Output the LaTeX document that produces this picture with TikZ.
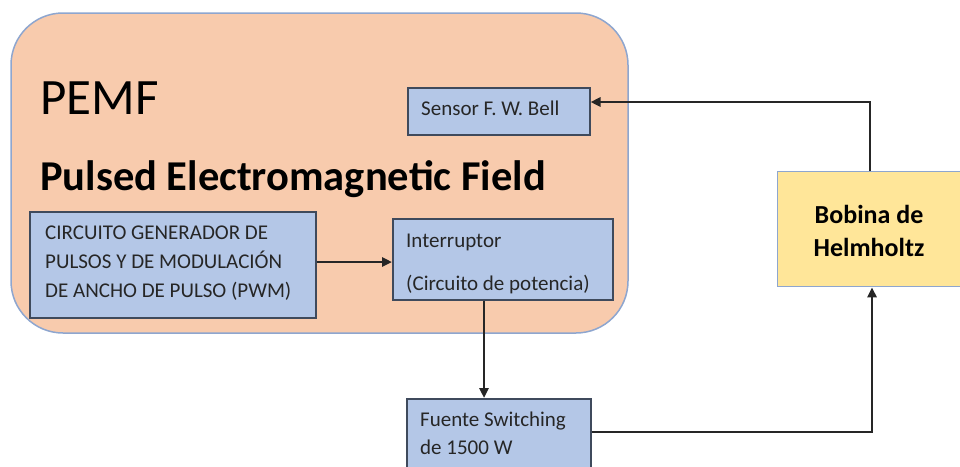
\documentclass[tikz,border=0pt]{standalone}
\usepackage{fontspec}
\setmainfont{Carlito}
\usetikzlibrary{arrows.meta}
\definecolor{peach}{HTML}{F8CBAD}
\definecolor{peachline}{HTML}{8EA6CF}
\definecolor{boxblue}{HTML}{B4C7E7}
\definecolor{boxline}{HTML}{3F4A5C}
\definecolor{boxyellow}{HTML}{FFE699}
\definecolor{txt}{HTML}{262626}
\begin{document}
\begin{tikzpicture}[x=1pt,y=-1pt,
  bluebox/.style={draw=boxline, line width=1.5pt, fill=boxblue, inner sep=0pt, anchor=north west},
  yellowbox/.style={draw=peachline, line width=1.3pt, fill=boxyellow, inner sep=0pt, anchor=north west},
  smalltxt/.style={inner sep=0pt, anchor=base west, text=txt, font=\fontsize{21}{24}\selectfont},
  conn/.style={draw=black!85, line width=2.6pt, -{Triangle[length=10pt,width=9pt]}},
  boldtxt/.style={inner sep=0pt, anchor=base, text=black, font=\fontsize{26}{28}\selectfont\bfseries}
]
\useasboundingbox (0,0) rectangle (960,466);
\clip (0,0) rectangle (960,466);
% big rounded panel
\draw[draw=peachline, line width=1.5pt, fill=peach, rounded corners=52pt] (11,13) rectangle (628,333);
\node[inner sep=0pt, anchor=base west, font=\fontsize{51}{54}\selectfont] (pemf) at (40,114) {PEMF};
\node[inner sep=0pt, anchor=base west, font=\fontsize{42.5}{46}\selectfont\bfseries] (pulsed) at (40,190) {Pulsed Electromagnetic Field};
% boxes
\node[bluebox, minimum width=182pt, minimum height=47pt] (sensor) at (407,87) {};
\node[smalltxt] (sensortxt) at (421,115) {Sensor F. W. Bell};
\node[bluebox, minimum width=286pt, minimum height=106pt] (circ) at (29,211) {};
\node[smalltxt] (c1) at (45,239) {CIRCUITO GENERADOR DE};
\node[smalltxt] (c2) at (45,268) {PULSOS Y DE MODULACIÓN};
\node[smalltxt] (c3) at (45,297) {DE ANCHO DE PULSO (PWM)};
\node[bluebox, minimum width=220pt, minimum height=81pt] (inter) at (392,218) {};
\node[smalltxt] (i1) at (406,247) {Interruptor};
\node[smalltxt] (i2) at (406,290) {(Circuito de potencia)};
\node[bluebox, minimum width=184pt, minimum height=90pt] (fuente) at (406,398) {};
\node[smalltxt] (f1) at (420,426) {Fuente Switching};
\node[smalltxt] (f2) at (420,454) {de 1500 W};
\node[yellowbox, minimum width=200pt, minimum height=115pt] (bobina) at (777,171) {};
\node[boldtxt] (b1) at (869,223) {Bobina de};
\node[boldtxt] (b2) at (869,256) {Helmholtz};
% connectors
\draw[conn] (circ.east |- 0,262) -- (inter.west |- 0,262);
\draw[conn] (inter.south -| 484,0) -- (fuente.north -| 484,0);
\draw[conn] (fuente.east |- 0,432) -| (bobina.south -| 872,0);
\draw[conn] (bobina.north -| 870,0) |- (sensor.east |- 0,102);
\end{tikzpicture}
\end{document}
